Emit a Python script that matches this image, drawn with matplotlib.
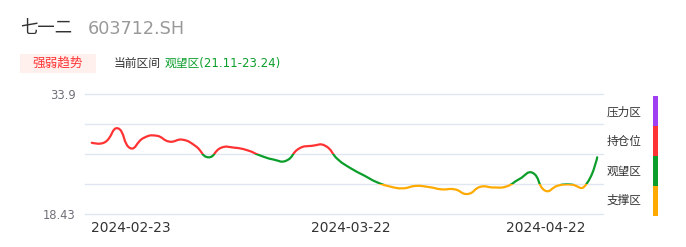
import matplotlib
matplotlib.use('Agg')
import matplotlib.pyplot as plt
import numpy as np
from matplotlib.path import Path
from matplotlib.patches import PathPatch, Rectangle

plt.rcParams['font.family'] = ['DejaVu Sans', 'Noto Sans CJK SC']

# 价格序列
prices = [27.62, 27.67, 29.48, 26.90, 28.23, 28.52, 27.76, 28.01, 27.20, 25.74,
          26.98, 26.98, 26.65, 25.97, 25.46, 25.30, 26.87, 27.22, 27.24, 25.46,
          24.31, 23.41, 22.53, 21.98, 21.74, 22.05, 21.91, 21.61, 21.61, 21.01,
          21.94, 21.85, 21.98, 22.94, 23.75, 21.43, 22.10, 22.22, 21.95, 25.74]
tick_idx = [3, 20, 35]
tick_labels = ['2024-02-23', '2024-03-22', '2024-04-22']
y_min, y_max = 18.43, 33.9
zone_names = ['压力区', '持仓位', '观望区', '支撑区']
zone_colors = ['#a03ff2', '#ff3333', '#0c9e2b', '#ffaa00']

W, H = 686, 247


def px(x, y):
    # 像素坐标 -> figure 坐标
    return x / W, 1 - y / H


def smooth_path(ax, xs, ys, smooth=0.5):
    # 类似 echarts 的平滑曲线
    pts = ax.transData.transform(np.column_stack([xs, ys]))
    n = len(pts)
    verts = [pts[0]]
    codes = [Path.MOVETO]
    cp0 = pts[0]
    for i in range(1, n):
        p = pts[i]
        if i == n - 1:
            ncp0 = p
            v = np.zeros(2)
            ratio = 0.5
        else:
            prev, nxt = pts[i - 1], pts[i + 1]
            v = nxt - prev
            d0 = np.hypot(*(p - prev))
            d1 = np.hypot(*(nxt - p))
            ratio = d1 / (d0 + d1)
            ncp0 = p - v * smooth * (1 - ratio)
        verts += [cp0, ncp0, p]
        codes += [Path.CURVE4] * 3
        cp0 = p + v * smooth * ratio
    verts = ax.transData.inverted().transform(np.array(verts))
    return Path(verts, codes)


fig = plt.figure(figsize=(W / 100, H / 100), dpi=100)
ax = fig.add_axes([85 / W, 33 / H, 518 / W, 120 / H])
x = np.arange(len(prices))
ax.set_xlim(-0.52, 39.45)
ax.set_ylim(y_min, y_max)

levels = np.linspace(y_min, y_max, 5)
ax.set_yticks(levels, ['18.43', '', '', '', '33.9'])
ax.grid(axis='y', color='#e0e6f1', lw=1)
for gl in ax.get_ygridlines():
    gl.set_clip_on(False)
ax.set_axisbelow(True)
ax.set_xticks(tick_idx, tick_labels)
ax.tick_params(axis='y', length=0, pad=6.5, labelsize=8.3, labelcolor='#6e7079')
ax.tick_params(axis='x', length=0, pad=5, labelsize=9.9, labelcolor='#333333')
for s in ax.spines.values():
    s.set_visible(False)

path = smooth_path(ax, x, prices)
# 按区间着色：上到下 压力区/持仓位/观望区/支撑区
bands = list(zip(levels[::-1][:-1], levels[::-1][1:]))
for (hi, lo), c in zip(bands, zone_colors):
    patch = PathPatch(path, fill=False, edgecolor=c, lw=1.6,
                      capstyle='round', joinstyle='round')
    ax.add_patch(patch)
    clip = Rectangle((-1, lo), 42, hi - lo, transform=ax.transData)
    patch.set_clip_path(clip)

# 右侧色条
bax = fig.add_axes([652.7 / W, 31 / H, 5 / W, 120 / H])
for (hi, lo), c in zip(bands, zone_colors):
    bax.bar(0, hi - lo, bottom=lo, width=1, color=c)
bax.set_xlim(-0.5, 0.5)
bax.set_ylim(y_min, y_max)
bax.axis('off')

label_y = [111.7, 141.5, 170.8, 200.7]
for name, yy in zip(zone_names, label_y):
    fig.text(*px(607, yy), name, fontsize=8.4, color='#333333', va='center')

# 标题
fig.text(*px(20, 28.5), '七一二', fontsize=12.5, color='#333333', va='center')
fig.text(*px(88, 28.5), '603712.SH', fontsize=12.7, color='#999999', va='center')

fig.add_artist(Rectangle(px(20, 73), 76 / W, 19 / H, transform=fig.transFigure,
                         color='#fff0ee', lw=0))
fig.text(*px(58, 63.5), '强弱趋势', fontsize=9.1, color='#ff3333',
         ha='center', va='center')
fig.text(*px(114, 63), '当前区间', fontsize=8.5, color='#333333', va='center')
fig.text(*px(165, 63), '观望区(21.11-23.24)', fontsize=8.5, color='#0c9e2b',
         va='center')

fig.savefig('out.png', dpi=100)
